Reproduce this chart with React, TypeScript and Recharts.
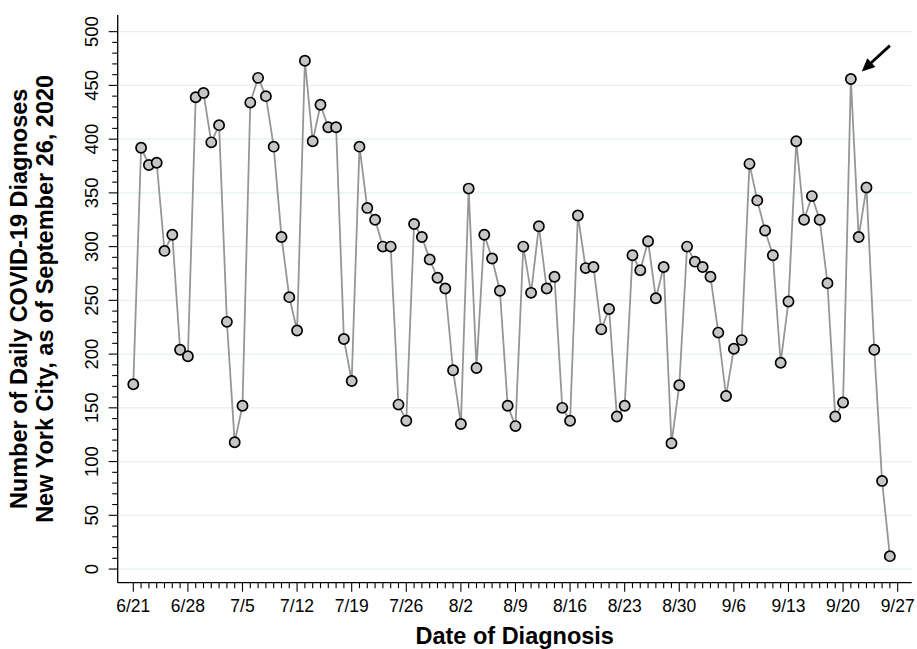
import React from 'react';
import { LineChart, Line, XAxis, YAxis, CartesianGrid, ReferenceLine } from 'recharts';

// Daily COVID-19 diagnoses, NYC, 6/21 .. 9/26 (one value per day)
const dailyCases = [
  172, 392, 376, 378, 296, 311, 204, 198, 439, 443, 397, 413, 230, 118,
  152, 434, 457, 440, 393, 309, 253, 222, 473, 398, 432, 411, 411, 214,
  175, 393, 336, 325, 300, 300, 153, 138, 321, 309, 288, 271, 261, 185,
  135, 354, 187, 311, 289, 259, 152, 133, 300, 257, 319, 261, 272, 150,
  138, 329, 280, 281, 223, 242, 142, 152, 292, 278, 305, 252, 281, 117,
  171, 300, 286, 281, 272, 220, 161, 205, 213, 377, 343, 315, 292, 192,
  249, 398, 325, 347, 325, 266, 142, 155, 456, 309, 355, 204, 82, 12,
];

// Weekly tick labels (every 7 days starting 6/21)
const weekLabels = ['6/21', '6/28', '7/5', '7/12', '7/19', '7/26', '8/2', '8/9', '8/16', '8/23', '8/30', '9/6', '9/13', '9/20', '9/27'];
const yMajorTicks = [0, 50, 100, 150, 200, 250, 300, 350, 400, 450, 500];
const yMinorStep = 10;
const yAllTicks = Array.from({ length: 51 }, (_, i) => i * yMinorStep);
const xAllTicks = Array.from({ length: weekLabels.length * 7 - 6 }, (_, i) => i);

// Arrow annotation pointing to the 9/21 peak (data coordinates: day, cases)
const arrowTail = { day: 97.0, cases: 487 };
const arrowTip = { day: 93.4, cases: 463 };

const data = dailyCases.map((v, i) => ({ day: i, cases: v }));

const FONT = '"Liberation Sans", Arial, Helvetica, sans-serif';

const XTick = (props: any) => {
  const { x, y, payload } = props;
  const d = payload.value as number;
  const major = d % 7 === 0;
  return (
    <g>
      <line x1={x} x2={x} y1={y} y2={y + (major ? 9 : 5.5)} stroke="#000" strokeWidth={1.1} />
      {major && (
        <text x={x} y={y + 29} textAnchor="middle" fontFamily={FONT} fontSize={17.5} fill="#000">
          {weekLabels[d / 7]}
        </text>
      )}
    </g>
  );
};

const YTick = (props: any) => {
  const { x, y, payload } = props;
  const v = payload.value as number;
  const major = v % 50 === 0;
  const lx = x - 19.5;
  return (
    <g>
      <line x1={x} x2={x - (major ? 9 : 5.5)} y1={y} y2={y} stroke="#000" strokeWidth={1.1} />
      {major && (
        <text
          x={lx}
          y={y}
          textAnchor="middle"
          fontFamily={FONT}
          fontSize={18.5}
          fill="#000"
          transform={`rotate(-90, ${lx}, ${y})`}
        >
          {v}
        </text>
      )}
    </g>
  );
};

const XTitle = (props: any) => {
  const vb = props.viewBox || {};
  return (
    <text
      x={vb.x + vb.width / 2}
      y={vb.y + 61.5}
      textAnchor="middle"
      fontFamily={FONT}
      fontWeight="bold"
      fontSize={23.5}
      fill="#000"
    >
      Date of Diagnosis
    </text>
  );
};

const YTitle = (props: any) => {
  const vb = props.viewBox || {};
  const cy = vb.y + vb.height / 2;
  const x1 = 27;
  const x2 = 53.5;
  return (
    <g>
      <text
        x={x1}
        y={cy}
        textAnchor="middle"
        fontFamily={FONT}
        fontWeight="bold"
        fontSize={23.5}
        fill="#000"
        transform={`rotate(-90, ${x1}, ${cy})`}
      >
        Number of Daily COVID-19 Diagnoses
      </text>
      <text
        x={x2}
        y={cy}
        textAnchor="middle"
        fontFamily={FONT}
        fontWeight="bold"
        fontSize={23.5}
        fill="#000"
        transform={`rotate(-90, ${x2}, ${cy})`}
      >
        New York City, as of September 26, 2020
      </text>
    </g>
  );
};

const ArrowShape = (props: any) => {
  const { x1, y1, x2, y2 } = props;
  if ([x1, y1, x2, y2].some((v) => typeof v !== 'number' || isNaN(v))) return null;
  const dx = x2 - x1;
  const dy = y2 - y1;
  const len = Math.sqrt(dx * dx + dy * dy);
  const ux = dx / len;
  const uy = dy / len;
  const headLen = 13;
  const headW = 6;
  const bx = x2 - ux * headLen;
  const by = y2 - uy * headLen;
  const px = -uy;
  const py = ux;
  return (
    <g>
      <line x1={x1} y1={y1} x2={bx + ux * 2} y2={by + uy * 2} stroke="#000" strokeWidth={2.8} />
      <polygon
        points={`${x2},${y2} ${bx + px * headW},${by + py * headW} ${bx - px * headW},${by - py * headW}`}
        fill="#000"
      />
    </g>
  );
};

export default function App() {
  return (
    <div style={{ position: 'absolute', left: 0, top: 0, background: '#fff' }}>
      <LineChart
        width={917}
        height={649}
        data={data}
        margin={{ top: 15, right: 5.3, bottom: 26.3, left: 57.7 }}
        style={{ background: '#fff' }}
      >
        <CartesianGrid
          vertical={false}
          horizontalValues={yMajorTicks}
          stroke="#e6eff3"
          strokeWidth={1.3}
        />
        <XAxis
          dataKey="day"
          type="number"
          domain={[-2, 99.8]}
          ticks={xAllTicks}
          interval={0}
          tickSize={0}
          tickMargin={0}
          tick={<XTick />}
          axisLine={{ stroke: '#000', strokeWidth: 1.3 }}
          height={40}
          allowDataOverflow
          label={<XTitle />}
        />
        <YAxis
          type="number"
          domain={[-12.7, 515.5]}
          ticks={yAllTicks}
          interval={0}
          tickSize={0}
          tickMargin={0}
          tick={<YTick />}
          axisLine={{ stroke: '#000', strokeWidth: 1.3 }}
          width={60}
          allowDataOverflow
          label={<YTitle />}
        />
        <ReferenceLine
          segment={[
            { x: arrowTail.day, y: arrowTail.cases },
            { x: arrowTip.day, y: arrowTip.cases },
          ]}
          shape={<ArrowShape />}
        />
        <Line
          type="linear"
          dataKey="cases"
          stroke="#969696"
          strokeWidth={1.8}
          dot={{ r: 5.1, fill: '#c6c6c6', stroke: '#000', strokeWidth: 1.7 }}
          isAnimationActive={false}
        />
      </LineChart>
    </div>
  );
}
